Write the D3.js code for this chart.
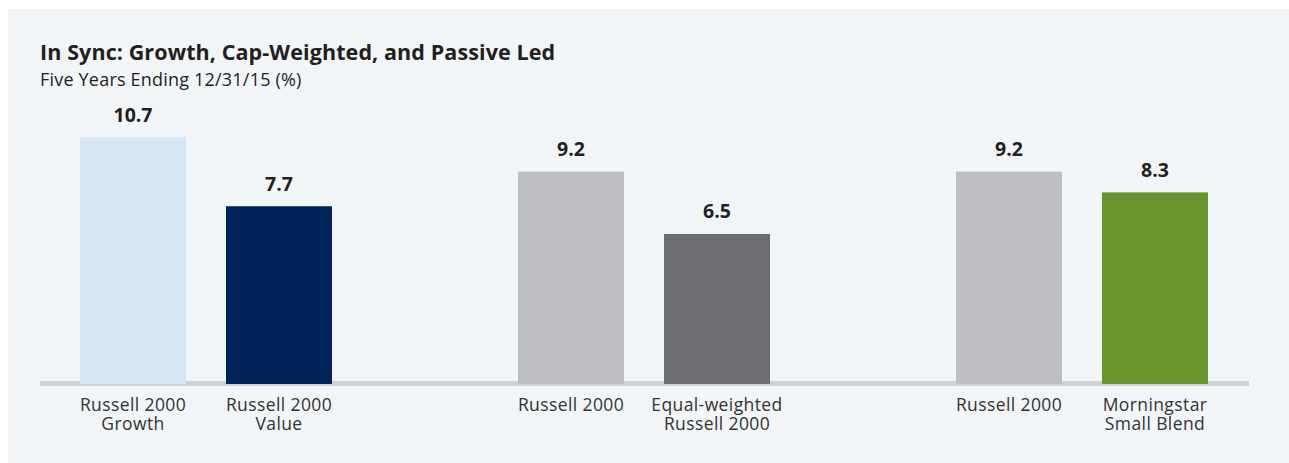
<!DOCTYPE html>
<html>
<head>
<meta charset="utf-8">
<script src="https://cdn.jsdelivr.net/npm/d3@7"></script>
<style>
  html, body { margin: 0; padding: 0; background: #ffffff; }
  svg { display: block; font-family: "Open Sans", "Lato", sans-serif; }
</style>
</head>
<body>
<div id="chart"></div>
<script>
const titulo = "In Sync: Growth, Cap-Weighted, and Passive Led";
const subtitulo = "Five Years Ending 12/31/15 (%)";

const grupos = [0, 1, 2];
const categorias = [
  ["Russell 2000", "Growth"],
  ["Russell 2000", "Value"],
  ["Russell 2000"],
  ["Equal-weighted", "Russell 2000"],
  ["Russell 2000"],
  ["Morningstar", "Small Blend"]
];
const valores = [10.7, 7.7, 9.2, 6.5, 9.2, 8.3];
const cores = ["#d4e7f3", "#002359", "#bdbec2", "#6c6d71", "#bdbec2", "#66952c"];

const largura = 1289, altura = 463;

const svg = d3.select("#chart")
  .append("svg")
  .attr("width", largura)
  .attr("height", altura);

// painel de fundo
svg.append("rect")
  .attr("x", 8)
  .attr("y", 9)
  .attr("width", largura - 8)
  .attr("height", altura - 9)
  .attr("fill", "#f1f5f8");

svg.append("text")
  .attr("x", 40)
  .attr("y", 59.5)
  .attr("fill", "#231f20")
  .attr("font-size", "21.5px")
  .attr("font-weight", "bold")
  .attr("letter-spacing", "0.1px")
  .text(titulo);

svg.append("text")
  .attr("x", 40)
  .attr("y", 85.5)
  .attr("fill", "#231f20")
  .attr("font-size", "18px")
  .attr("letter-spacing", "0.2px")
  .text(subtitulo);

// escalas
const xGrupo = d3.scaleBand()
  .domain(grupos)
  .range([80, 1208])
  .paddingInner(186 / 438);

const xBarra = d3.scaleBand()
  .domain([0, 1])
  .range([0, xGrupo.bandwidth()])
  .paddingInner(40 / 146);

const y = d3.scaleLinear()
  .domain([0, 10.7])
  .range([384, 137]);

const dados = valores.map((v, i) => ({
  valor: v,
  rotulo: categorias[i],
  cor: cores[i],
  x: xGrupo(Math.floor(i / 2)) + xBarra(i % 2)
}));

// linha de base
svg.append("rect")
  .attr("x", 40)
  .attr("y", y(0) - 3)
  .attr("width", 1209)
  .attr("height", 5)
  .attr("fill", "#d0d1d3");

svg.selectAll("rect.barra")
  .data(dados)
  .enter()
  .append("rect")
  .attr("class", "barra")
  .attr("x", d => d.x)
  .attr("y", d => y(d.valor))
  .attr("width", xBarra.bandwidth())
  .attr("height", d => y(0) - y(d.valor))
  .attr("fill", d => d.cor);

svg.selectAll("text.valor")
  .data(dados)
  .enter()
  .append("text")
  .attr("class", "valor")
  .attr("x", d => d.x + xBarra.bandwidth() / 2)
  .attr("y", d => y(d.valor) - 15.5)
  .attr("text-anchor", "middle")
  .attr("fill", "#231f20")
  .attr("font-size", "19.5px")
  .attr("font-weight", "bold")
  .text(d => d3.format(".1f")(d.valor));

// rotulos das categorias, uma linha por texto
const linhas = [];
dados.forEach(d => {
  d.rotulo.forEach((t, i) => {
    linhas.push({ t, i, x: d.x + xBarra.bandwidth() / 2 });
  });
});

svg.selectAll("text.rotulo")
  .data(linhas)
  .enter()
  .append("text")
  .attr("class", "rotulo")
  .attr("x", d => d.x)
  .attr("y", d => 410.5 + d.i * 19)
  .attr("text-anchor", "middle")
  .attr("fill", "#333333")
  .attr("font-size", "17.5px")
  .attr("letter-spacing", "0.4px")
  .text(d => d.t);
</script>
</body>
</html>
